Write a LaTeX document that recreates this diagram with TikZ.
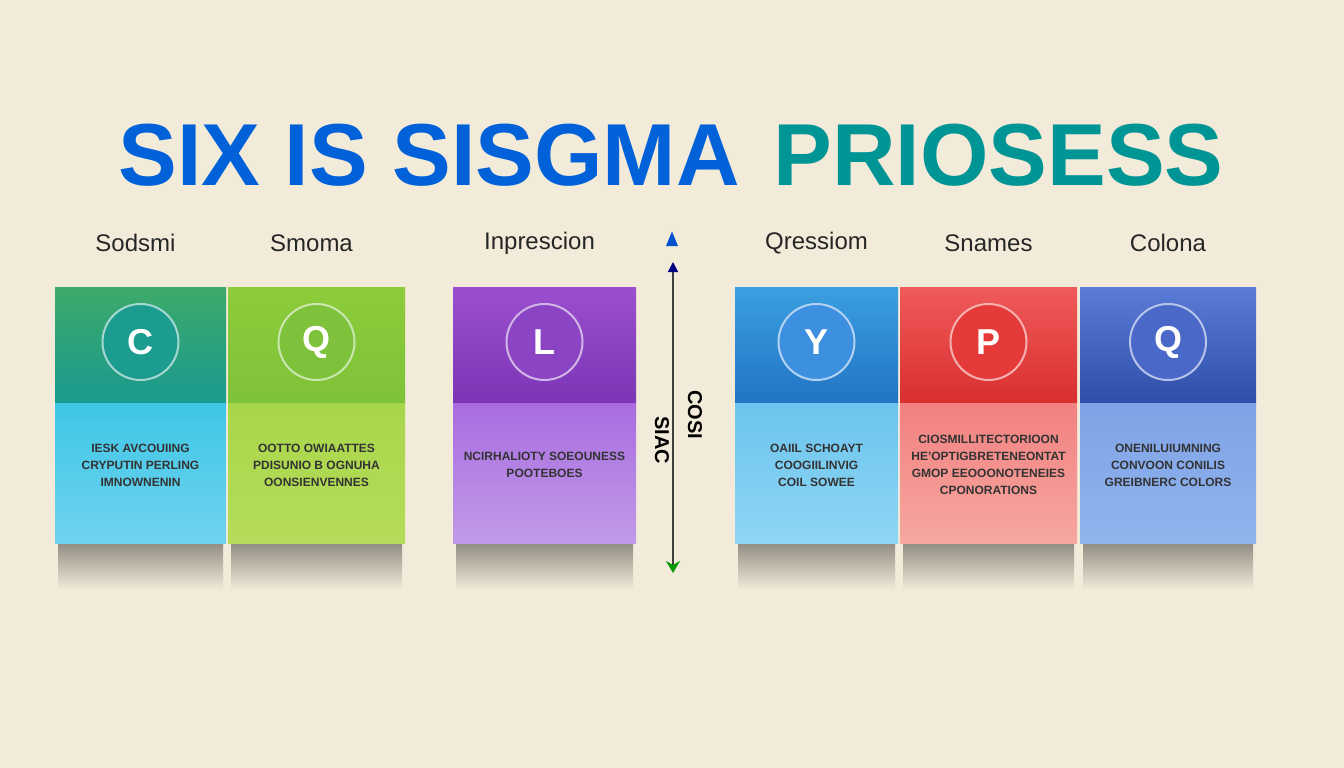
\documentclass[tikz,border=0pt]{standalone}
\usepackage{fontspec}
\setmainfont{Liberation Sans}
\usetikzlibrary{arrows.meta,shapes.geometric}
\definecolor{bg}{HTML}{F3EBDA}
\begin{document}
\begin{tikzpicture}[x=1pt,y=-1pt,
 hdr/.style={font=\fontsize{24}{26}\selectfont,text=black!85},
 body/.style={font=\bfseries\fontsize{12}{17}\selectfont,align=center,text=black!80},
 circ/.style={circle,minimum size=76pt,draw=white!60!#1,line width=2pt,fill=#1,text=white,font=\bfseries\fontsize{36}{36}\selectfont}]
\fill[bg] (0,0) rectangle (1344,768);
\useasboundingbox (0,0) rectangle (1344,768);
\node[font=\bfseries\fontsize{88}{88}\selectfont,text=blue!55!cyan!85!black,anchor=west] (t1) at (115,155) {SIX IS SISGMA};
\node[font=\bfseries\fontsize{88}{88}\selectfont,text=teal!70!cyan!90!black,anchor=west] (t2) at (770,155) {PRIOSESS};
\foreach \n/\a/\b/\ct/\cb/\lt/\lb/\cc/\h/\L/\T in {
 c1/55/226/3DAA6A/1A9A8E/3FC6E6/6FD3F0/1B9C8E/Sodsmi/C/{IESK AVCOUIING\\CRYPUTIN PERLING\\IMNOWNENIN},
 c2/228/405/8DCC3A/7EC23A/A8D64A/B5DC5A/7DC23A/Smoma/Q/{OOTTO OWIAATTES\\PDISUNIO B OGNUHA\\OONSIENVENNES},
 c3/453/636/9A4FD0/7B35B5/A96CE0/C09AE8/8B45C4/Inprescion/L/{NCIRHALIOTY SOEOUNESS\\POOTEBOES},
 c4/735/898/3A9FE0/2274C5/6CC4EE/8ED6F4/3D8FE0/Qressiom/Y/{OAIIL SCHOAYT\\COOGIILINVIG\\COIL SOWEE},
 c5/900/1077/F05A5A/D92F2F/F28080/F6A8A0/E53A3A/Snames/P/{CIOSMILLITECTORIOON\\HE'OPTIGBRETENEONTAT\\GMOP EEOOONOTENEIES\\CPONORATIONS},
 c6/1080/1256/5A7BD8/2D4EA8/7FA2E6/8FB5EE/4A68C8/Colona/Q/{ONENILUIUMNING\\CONVOON CONILIS\\GREIBNERC COLORS}}{
 \definecolor{ct}{HTML}{\ct}\definecolor{cb}{HTML}{\cb}\definecolor{lt}{HTML}{\lt}\definecolor{lb}{HTML}{\lb}\definecolor{cc}{HTML}{\cc}
 \shade[top color=black!40!bg,bottom color=bg] (\a+3,543) rectangle (\b-3,590);
 \shade[top color=ct,bottom color=cb] (\a,287) rectangle (\b,403);
 \shade[top color=lt,bottom color=lb] (\a,403) rectangle (\b,543);
 \node[circ=cc] (\n c) at ({(\a+\b)/2},342) {\L};
 \node[body] (\n t) at ({(\a+\b)/2},465) {\T};
 \node[hdr] (\n h) at ({(\a+\b)/2+(\a<600?-5:0)},243) {\h};
}
\node[fill=blue!60!cyan!80!black,isosceles triangle,shape border rotate=90,minimum size=12pt,inner sep=0pt] (tri) at (672,242) {};
\coordinate (ar1) at (673,262);
\coordinate (ar2) at (673,573);
\draw[line width=1.5pt,black!75,{Triangle[length=10pt,width=10pt,color=blue!50!black]}-{Stealth[length=12pt,width=14pt,color=green!60!black]}] (ar1) -- (ar2);
\node[rotate=-90,font=\bfseries\fontsize{20}{20}\selectfont] (v1) at (662,440) {SIAC};
\node[rotate=-90,font=\bfseries\fontsize{20}{20}\selectfont] (v2) at (695,415) {COSI};
\end{tikzpicture}
\end{document}
